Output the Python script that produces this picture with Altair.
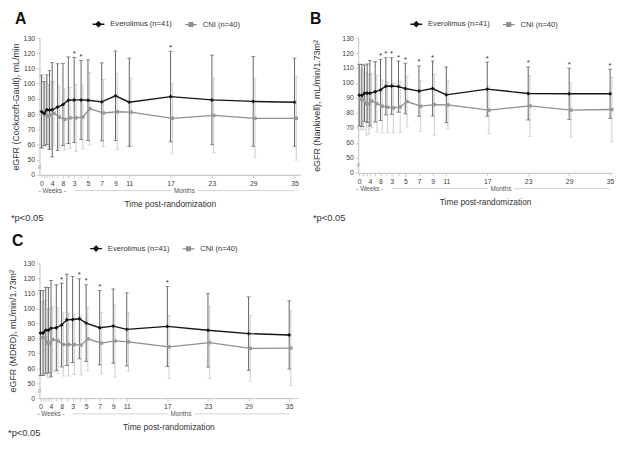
import altair as alt
import pandas as pd

FONT = "Liberation Sans"
SERIES = ["Everolimus (n=41)", "CNI (n=40)"]

# visits: weeks 0-10, then months 3-35
TIME_UNIT = ["wk"] * 8 + ["mo"] * 10
TIME_VALUE = [0, 1, 2, 3, 4, 6, 8, 10, 3, 4, 5, 7, 9, 11, 17, 23, 29, 35]
TICK_LABELS = ["0", "", "", "", "4", "", "8", "", "3", "", "5", "7", "9", "11", "17", "23", "29", "35"]
Y_TICKS = [40, 50, 60, 70, 80, 90, 100, 110, 120, 130]  # 40 is drawn as the broken-axis "0"

# Panel A: Cockcroft-Gault
A_EVE_MEAN = [81.6, 80.3, 82.8, 82.6, 82.8, 84.6, 86.2, 89.1, 89.3, 89.3, 89.1, 88.0, 92.0, 87.8, 91.5, 89.3, 88.3, 87.8]
A_EVE_SD = [24, 21, 23, 26, 31, 28.5, 27, 28.5, 28, 26, 26.5, 25.7, 29.5, 29, 29.8, 29.5, 29.5, 29]
A_CNI_MEAN = [81.0, 79.5, 78.5, 79.5, 80.5, 78.0, 76.5, 77.5, 77.5, 78.0, 83.5, 80.7, 81.5, 81.2, 77.2, 79.1, 77.2, 77.2]
A_CNI_SD = [23, 21, 21, 22, 21, 20, 20, 20, 22, 21, 24, 22, 25, 22.5, 23, 24.5, 26, 27.5]
A_SIG = [False] * 8 + [True, True, False, False, False, False, True, False, False, False]

# Panel B: Nankivell
B_EVE_MEAN = [91.9, 91.7, 93.2, 93.2, 93.2, 94.1, 95.4, 97.8, 98.0, 97.6, 96.3, 94.6, 96.3, 92.1, 95.9, 93.0, 92.8, 92.8]
B_EVE_SD = [20.6, 20.8, 18.8, 19.5, 21.9, 20.1, 20.4, 19.1, 18.9, 17.1, 16.9, 16.8, 18.4, 18.6, 18.1, 17.7, 17.1, 16.4]
B_CNI_MEAN = [89.1, 88.8, 86.2, 86.0, 88.0, 86.2, 84.5, 83.8, 83.4, 84.0, 87.6, 84.5, 85.6, 85.4, 81.9, 84.7, 81.9, 82.3]
B_CNI_SD = [20, 20, 21, 20, 18, 19, 17.5, 17, 16.5, 17, 17, 17, 20.4, 16.2, 16, 20.3, 18, 21.5]
B_SIG = [False] * 6 + [True, True, True, True, True, True, True, False, True, True, True, True]

# Panel C: MDRD
C_EVE_MEAN = [83.5, 83.5, 85.3, 85.3, 86.6, 87.0, 88.8, 92.3, 92.5, 93.0, 90.1, 87.0, 88.1, 85.9, 87.9, 85.3, 83.1, 82.2]
C_EVE_SD = [28.3, 28.3, 28.7, 28.5, 32, 28.7, 28, 30.5, 28.7, 26.7, 25.6, 24.8, 24.8, 24.4, 26.7, 24.5, 24.5, 22.8]
C_CNI_MEAN = [80.4, 80.4, 76.9, 76.7, 79.1, 78.2, 75.8, 75.8, 75.8, 75.4, 79.6, 76.7, 78.2, 77.6, 74.3, 77.1, 73.2, 73.4]
C_CNI_SD = [24, 25, 23, 23, 22, 22, 21, 21, 20, 20, 21, 20.4, 24, 19.5, 21, 24, 22, 25]
C_SIG = [False] * 6 + [True, False, False, True, True, True, False, False, True, False, False, False]

WEEK_STEP = 0.39
MONTH_SHIFT = 1.75
CNI_DODGE = 0.25

LEG_PATHS = ["M-1,0L1,0M0,-0.42L0.42,0L0,0.42L-0.42,0Z",
             "M-1,0L1,0M-0.32,-0.32L0.32,-0.32L0.32,0.32L-0.32,0.32Z"]


def axis_pos(unit, value):
    return WEEK_STEP * value if unit == "wk" else value + MONTH_SHIFT


def label_expr(vals, labels):
    parts = [f"abs(datum.value - {v:.4f}) < 0.001 ? '{l}' : " for v, l in zip(vals, labels)]
    return "".join(parts) + "''"


def panel(letter, ytitle, eve_m, eve_sd, cni_m, cni_sd, sig, W, H, xdom, ytp,
          letter_x, letter_y, legend_x, legend_y, foot_x, foot_y):
    xpos = [axis_pos(u, v) for u, v in zip(TIME_UNIT, TIME_VALUE)]
    eve = pd.DataFrame({"x": xpos, "mean": eve_m,
                        "lo": [m - s for m, s in zip(eve_m, eve_sd)],
                        "hi": [m + s for m, s in zip(eve_m, eve_sd)],
                        "sig": sig})
    cni = pd.DataFrame({"x": [p + CNI_DODGE for p in xpos], "mean": cni_m,
                        "lo": [m - s for m, s in zip(cni_m, cni_sd)],
                        "hi": [m + s for m, s in zip(cni_m, cni_sd)]})
    xs = alt.Scale(domain=xdom, nice=False, zero=False)
    ys = alt.Scale(domain=[40, 130], nice=False, zero=False)

    xaxis = alt.Axis(values=xpos, labelExpr=label_expr(xpos, TICK_LABELS),
                     title="Time post-randomization", grid=False,
                     domainColor="#bfbfbf", tickColor="#bfbfbf", tickSize=3, tickWidth=0.8,
                     labelFont=FONT, labelFontSize=7, labelColor="#404040", labelPadding=2,
                     labelOverlap=False, labelFlush=False,
                     titleFont=FONT, titleFontSize=8.5, titleFontWeight="normal",
                     titleColor="#333333", titlePadding=13)
    yaxis = alt.Axis(values=Y_TICKS, labelExpr="datum.value == 40 ? '0' : datum.label",
                     title=ytitle, grid=False,
                     domainColor="#bfbfbf", tickColor="#bfbfbf", tickSize=3, tickWidth=0.8,
                     labelFont=FONT, labelFontSize=7, labelColor="#404040", labelPadding=2,
                     titleFont=FONT, titleFontSize=9, titleFontWeight="normal",
                     titleColor="#333333", titlePadding=ytp)

    def XQ(field="x"):
        return alt.X(f"{field}:Q", scale=xs, axis=xaxis)

    def YQ(field):
        return alt.Y(f"{field}:Q", scale=ys, axis=yaxis)

    def bars(df, color):
        rule = alt.Chart(df).mark_rule(color=color, strokeWidth=0.9).encode(
            XQ(), YQ("lo"), alt.Y2("hi:Q"))
        caps = alt.Chart(df).transform_fold(["lo", "hi"], as_=["k", "v"]).mark_tick(
            orient="horizontal", size=4, thickness=0.9, color=color).encode(XQ(), YQ("v"))
        return [rule, caps]

    layers = []
    layers += bars(cni, "#c6c6c6")
    layers += bars(eve, "#505050")
    layers.append(alt.Chart(cni).mark_line(color="#8f8f8f", strokeWidth=1.3).encode(XQ(), YQ("mean")))
    layers.append(alt.Chart(cni).mark_point(shape="square", filled=True, size=12, color="#999999",
                                            opacity=1).encode(XQ(), YQ("mean")))
    layers.append(alt.Chart(eve).mark_line(color="#151515", strokeWidth=1.4).encode(XQ(), YQ("mean")))
    layers.append(alt.Chart(eve).mark_point(shape="diamond", filled=True, size=16, color="#111111",
                                            opacity=1).encode(XQ(), YQ("mean")))
    layers.append(alt.Chart(eve).transform_filter("datum.sig").mark_text(
        text="*", font=FONT, fontSize=8, color="#333333", baseline="alphabetic", dy=-1.5).encode(
        XQ(), YQ("hi")))

    # Weeks / Months brackets under the axis
    m_lo, m_hi = axis_pos("mo", 3), axis_pos("mo", 35)
    m_c = (m_lo + m_hi) / 2
    w_c = (axis_pos("wk", 0) + axis_pos("wk", 8)) / 2
    gap = 1.9
    row_y = H + 16
    br = pd.DataFrame({"x": [m_lo, m_c + gap], "x2": [m_c - gap, m_hi]})
    layers.append(alt.Chart(br).mark_rule(color="#c8c8c8", strokeWidth=0.8).encode(
        XQ(), alt.X2("x2:Q"), y=alt.value(row_y)))
    bt = pd.DataFrame({"x": [w_c, m_c], "t": ["- Weeks -", "Months"]})
    layers.append(alt.Chart(bt).mark_text(font=FONT, fontSize=6.5, color="#555555", baseline="middle").encode(
        XQ(), text="t:N", y=alt.value(row_y)))

    # axis break mark
    layers.append(alt.Chart(pd.DataFrame({"v": [45]})).mark_text(
        text="//", font=FONT, fontSize=6, color="#8a8a8a", baseline="middle").encode(
        x=alt.value(0), y=YQ("v")))

    # panel letter and footnote
    layers.append(alt.Chart(pd.DataFrame({"t": [letter]})).mark_text(
        font=FONT, fontSize=16, fontWeight="bold", color="#111111", align="left", baseline="top").encode(
        text="t:N", x=alt.value(letter_x), y=alt.value(letter_y)))
    layers.append(alt.Chart(pd.DataFrame({"t": ["*p<0.05"]})).mark_text(
        font=FONT, fontSize=9.5, color="#333333", align="left", baseline="alphabetic").encode(
        text="t:N", x=alt.value(foot_x), y=alt.value(foot_y)))

    # legend (drawn only as a legend)
    leg = alt.Legend(title=None, orient="none", legendX=legend_x, legendY=legend_y,
                     direction="horizontal", labelFont=FONT, labelFontSize=7.7,
                     labelColor="#333333", symbolSize=144, symbolStrokeWidth=1.3,
                     columnPadding=10, labelOffset=5, padding=0)
    cscale = alt.Scale(domain=SERIES, range=["#111111", "#8f8f8f"])
    leg_df = pd.DataFrame({"series": SERIES, "x": [0, 0], "mean": [80, 80]})
    layers.append(alt.Chart(leg_df).transform_filter("false").mark_point(
        filled=True, size=144, strokeWidth=1.3, opacity=1).encode(
        XQ(), YQ("mean"),
        color=alt.Color("series:N", scale=cscale, legend=leg),
        stroke=alt.Stroke("series:N", scale=cscale, legend=leg),
        shape=alt.Shape("series:N", scale=alt.Scale(domain=SERIES, range=LEG_PATHS), legend=leg)))

    return alt.layer(*layers).properties(width=W, height=H)


A = panel("A", "eGFR (Cockcroft-Gault), mL/min", A_EVE_MEAN, A_EVE_SD, A_CNI_MEAN, A_CNI_SD, A_SIG,
          W=265, H=139, xdom=[-0.29, 37.57], ytp=3,
          letter_x=-25, letter_y=-27, legend_x=53, legend_y=-21.5, foot_x=-29, foot_y=186)
B = panel("B", "eGFR (Nankivell), mL/min/1.73m²", B_EVE_MEAN, B_EVE_SD, B_CNI_MEAN, B_CNI_SD, B_SIG,
          W=258, H=137, xdom=[-0.144, 37.03], ytp=21,
          letter_x=-49, letter_y=-27, legend_x=52, legend_y=-21.5, foot_x=-46, foot_y=186)
C = panel("C", "eGFR (MDRD), mL/min/1.73m²", C_EVE_MEAN, C_EVE_SD, C_CNI_MEAN, C_CNI_SD, C_SIG,
          W=262, H=137, xdom=[-0.145, 37.94], ytp=6,
          letter_x=-28, letter_y=-31, legend_x=50.5, legend_y=-22.5, foot_x=-32, foot_y=175)

ind = dict(color="independent", stroke="independent", shape="independent")
top = alt.hconcat(A, B, spacing=10).resolve_scale(**ind).resolve_legend(**ind)
chart = alt.vconcat(top, C, spacing=10, padding=0).resolve_scale(**ind).resolve_legend(**ind)
chart = chart.configure_view(stroke=None)

chart.save("out.html", embed_options={"renderer": "svg", "actions": False})
